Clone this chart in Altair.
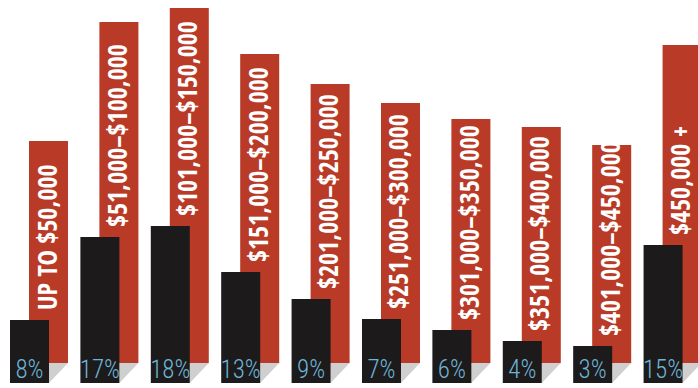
import altair as alt
import pandas as pd

# Income ranges (red bar labels)
ranges = ["UP TO $50,000", "$51,000–$100,000", "$101,000–$150,000",
          "$151,000–$200,000", "$201,000–$250,000", "$251,000–$300,000",
          "$301,000–$350,000", "$351,000–$400,000", "$401,000–$450,000",
          "$450,000 +"]
# Share labels (black bars)
shares = ["8%", "17%", "18%", "13%", "9%", "7%", "6%", "4%", "3%", "15%"]
# Drawn lengths (black bars and red backing bars)
black_len = [63, 146, 157, 111, 84, 64, 53, 42, 37, 138]
red_len = [222, 341, 355, 309, 279, 260, 244, 236, 218, 318]

RED_BASE = 20
BW = 0.554
ROFF = 0.27

rows = []
for i in range(len(ranges)):
    rows.append(dict(i=i, label=ranges[i], share=shares[i],
                     bx=i, bx2=i + BW, rx=i + ROFF, rx2=i + ROFF + BW,
                     rc=i + ROFF + BW / 2, bc=i + BW / 2,
                     b=black_len[i], r=RED_BASE + red_len[i],
                     ty=black_len[i] + 10, base=0, rbase=RED_BASE, py=5))
df = pd.DataFrame(rows)

shadow_rows = []
for i in range(len(ranges)):
    shadow_rows.append(dict(i=i, x=i + BW, top=RED_BASE, bot=0))
    shadow_rows.append(dict(i=i, x=i + ROFF + BW, top=RED_BASE, bot=RED_BASE))
sdf = pd.DataFrame(shadow_rows)

xs = alt.Scale(domain=[-0.142, 9.773], nice=False, zero=False)
ys = alt.Scale(domain=[-5, 383], nice=False, zero=False)

base = alt.Chart(df)

red = base.mark_rect(color="#B93A27").encode(
    x=alt.X("rx:Q", scale=xs, axis=None), x2="rx2",
    y=alt.Y("rbase:Q", scale=ys, axis=None), y2="r")

shadow = alt.Chart(sdf).mark_area(color="#CFCFCF").encode(
    x=alt.X("x:Q", scale=xs, axis=None),
    y=alt.Y("top:Q", scale=ys, axis=None), y2="bot",
    detail="i:N")

black = base.mark_rect(color="#1C1A1B").encode(
    x=alt.X("bx:Q", scale=xs, axis=None), x2="bx2",
    y=alt.Y("base:Q", scale=ys, axis=None), y2="b")

labels = base.mark_text(
    angle=270, align="left", baseline="middle", color="white",
    font="Open Sans Condensed, Roboto Condensed, sans-serif",
    fontWeight="bold", fontSize=26).encode(
    x=alt.X("rc:Q", scale=xs, axis=None),
    y=alt.Y("ty:Q", scale=ys, axis=None),
    text="label:N")

pct = base.mark_text(
    align="center", baseline="alphabetic", color="#6DB5D6",
    font="Roboto Condensed, sans-serif",
    fontWeight=300, fontSize=25).encode(
    x=alt.X("bc:Q", scale=xs, axis=None),
    y=alt.Y("py:Q", scale=ys, axis=None),
    text="share:N")

chart = alt.layer(red, shadow, black, labels, pct).properties(
    width=698, height=388, padding=0, autosize="none", background="white"
).configure_view(stroke=None)

chart.save("out.html", embed_options={"renderer": "svg", "actions": False})
